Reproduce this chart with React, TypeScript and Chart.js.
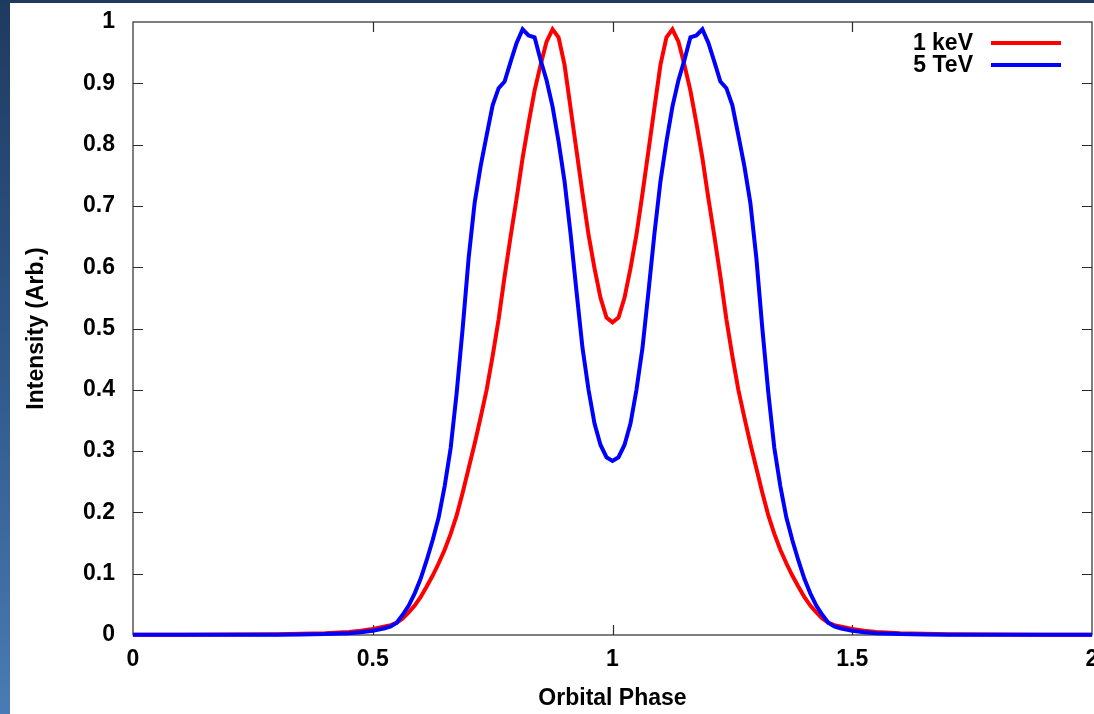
import React, { useEffect, useRef } from 'react';
import { Chart, registerables } from 'chart.js';

Chart.register(...registerables);

// Orbital phase samples (denser across the double-peaked region)
const phase = [
  0, 0.1, 0.2, 0.3, 0.35, 0.4, 0.45, 0.475,
  0.5, 0.5125, 0.525, 0.5375, 0.55, 0.5625, 0.575, 0.5875, 0.6, 0.6125,
  0.625, 0.6375, 0.65, 0.6625, 0.675, 0.6875, 0.7, 0.7125, 0.725, 0.7375,
  0.75, 0.7625, 0.775, 0.7875, 0.8, 0.8125, 0.825, 0.8375, 0.85, 0.8625,
  0.875, 0.8875, 0.9, 0.9125, 0.925, 0.9375, 0.95, 0.9625, 0.975, 0.9875,
  1,
  1.0125, 1.025, 1.0375, 1.05, 1.0625, 1.075, 1.0875, 1.1, 1.1125, 1.125,
  1.1375, 1.15, 1.1625, 1.175, 1.1875, 1.2, 1.2125, 1.225, 1.2375, 1.25,
  1.2625, 1.275, 1.2875, 1.3, 1.3125, 1.325, 1.3375, 1.35, 1.3625, 1.375,
  1.3875, 1.4, 1.4125, 1.425, 1.4375, 1.45, 1.4625, 1.475, 1.4875, 1.5,
  1.525, 1.55, 1.6, 1.65, 1.7, 1.8, 1.9, 2,
];

// 1 keV light curve
const intensity1keV = [
  0.0005, 0.0006, 0.0008, 0.0012, 0.002, 0.003, 0.005, 0.007,
  0.010, 0.012, 0.014, 0.016, 0.020, 0.027, 0.037, 0.048, 0.062, 0.079,
  0.097, 0.117, 0.139, 0.165, 0.195, 0.232, 0.272, 0.312, 0.355, 0.400,
  0.455, 0.515, 0.585, 0.650, 0.712, 0.778, 0.835, 0.888, 0.930, 0.968,
  0.988, 0.975, 0.930, 0.860, 0.790, 0.720, 0.653, 0.598, 0.550, 0.518,
  0.510,
  0.518, 0.550, 0.598, 0.653, 0.720, 0.790, 0.860, 0.930, 0.975, 0.988,
  0.968, 0.930, 0.888, 0.835, 0.778, 0.712, 0.650, 0.585, 0.515, 0.455,
  0.400, 0.355, 0.312, 0.272, 0.232, 0.195, 0.165, 0.139, 0.117, 0.097,
  0.079, 0.062, 0.048, 0.037, 0.027, 0.020, 0.016, 0.014, 0.012, 0.010,
  0.007, 0.005, 0.003, 0.002, 0.0012, 0.0008, 0.0006, 0.0005,
];

// 5 TeV light curve
const intensity5TeV = [
  0.0003, 0.0003, 0.0004, 0.0006, 0.001, 0.0015, 0.003, 0.0045,
  0.007, 0.009, 0.011, 0.014, 0.020, 0.033, 0.048, 0.068, 0.092, 0.122,
  0.155, 0.192, 0.243, 0.305, 0.395, 0.500, 0.615, 0.705, 0.765, 0.815,
  0.864, 0.892, 0.903, 0.935, 0.966, 0.988, 0.978, 0.975, 0.938, 0.905,
  0.862, 0.805, 0.740, 0.655, 0.560, 0.468, 0.400, 0.345, 0.310, 0.290,
  0.284,
  0.290, 0.310, 0.345, 0.400, 0.468, 0.560, 0.655, 0.740, 0.805, 0.862,
  0.905, 0.938, 0.975, 0.978, 0.988, 0.966, 0.935, 0.903, 0.892, 0.864,
  0.815, 0.765, 0.705, 0.615, 0.500, 0.395, 0.305, 0.243, 0.192, 0.155,
  0.122, 0.092, 0.068, 0.048, 0.033, 0.020, 0.014, 0.011, 0.009, 0.007,
  0.0045, 0.003, 0.0015, 0.001, 0.0006, 0.0004, 0.0003, 0.0003,
];

const seriesNames = ['1 keV', '5 TeV'];
const seriesColors = ['#ff0000', '#0000ff'];

const xTicks = [0, 0.5, 1, 1.5, 2];
const xTickLabels = ['0', '0.5', '1', '1.5', '2'];
const yTicks = [0, 0.1, 0.2, 0.3, 0.4, 0.5, 0.6, 0.7, 0.8, 0.9, 1];
const yTickLabels = ['0', '0.1', '0.2', '0.3', '0.4', '0.5', '0.6', '0.7', '0.8', '0.9', '1'];

const xTitle = 'Orbital Phase';
const yTitle = 'Intensity (Arb.)';

const W = 1094;
const H = 714;
const FONT = '"Liberation Sans", Arial, Helvetica, sans-serif';
const font = { family: FONT, size: 23, weight: 'bold' as const };

// Slide-style backdrop: white page with a navy strip on top and a blue gradient on the left
const backdrop = {
  id: 'backdrop',
  beforeDraw(chart: any) {
    const { ctx } = chart;
    ctx.save();
    ctx.fillStyle = '#ffffff';
    ctx.fillRect(0, 0, W, H);
    const g = ctx.createLinearGradient(0, 0, 0, H);
    g.addColorStop(0, '#1f3a60');
    g.addColorStop(0.5, '#2f5888');
    g.addColorStop(1, '#4a7bb4');
    ctx.fillStyle = g;
    ctx.fillRect(0, 0, 10, H);
    ctx.fillStyle = '#1f3a60';
    ctx.fillRect(0, 0, W, 3);
    ctx.restore();
  },
};

// Boxed frame with inward tick marks on all four sides, plus the key
const frame = {
  id: 'frame',
  beforeDatasetsDraw(chart: any) {
    const { ctx, chartArea: a, scales } = chart;
    const xs = scales.x;
    const ys = scales.y;
    const tl = 10;
    ctx.save();
    ctx.strokeStyle = '#2b2b2b';
    ctx.lineWidth = 1.2;
    ctx.strokeRect(a.left, a.top, a.right - a.left, a.bottom - a.top);
    ctx.beginPath();
    yTicks.forEach((v) => {
      const y = Math.round(ys.getPixelForValue(v)) + 0.5;
      if (v === 0 || v === 1) return;
      ctx.moveTo(a.left, y);
      ctx.lineTo(a.left + tl, y);
      ctx.moveTo(a.right, y);
      ctx.lineTo(a.right - tl, y);
    });
    xTicks.forEach((v) => {
      if (v === 0 || v === 2) return;
      const x = Math.round(xs.getPixelForValue(v)) + 0.5;
      ctx.moveTo(x, a.bottom);
      ctx.lineTo(x, a.bottom - tl);
      ctx.moveTo(x, a.top);
      ctx.lineTo(x, a.top + tl);
    });
    ctx.stroke();
    ctx.restore();
  },
  afterDatasetsDraw(chart: any) {
    const { ctx } = chart;
    ctx.save();
    ctx.font = `bold ${font.size}px ${FONT}`;
    ctx.textAlign = 'right';
    ctx.textBaseline = 'middle';
    const rows = [43, 65];
    seriesNames.forEach((name, i) => {
      const y = rows[i];
      ctx.fillStyle = '#000';
      ctx.fillText(name, 973, y + 1);
      ctx.strokeStyle = seriesColors[i];
      ctx.lineWidth = 4;
      ctx.beginPath();
      ctx.moveTo(991, y);
      ctx.lineTo(1061, y);
      ctx.stroke();
    });
    ctx.restore();
  },
};

export default function App() {
  const ref = useRef<HTMLCanvasElement | null>(null);

  useEffect(() => {
    document.body.style.margin = '0';
    const canvas = ref.current;
    if (!canvas) return;

    const chart = new Chart(canvas, {
      type: 'line',
      data: {
        datasets: [
          {
            label: seriesNames[0],
            data: phase.map((p, i) => ({ x: p, y: intensity1keV[i] })),
            borderColor: seriesColors[0],
            borderWidth: 4,
            pointRadius: 0,
            tension: 0,
            fill: false,
            clip: 4,
            order: 1,
          },
          {
            label: seriesNames[1],
            data: phase.map((p, i) => ({ x: p, y: intensity5TeV[i] })),
            borderColor: seriesColors[1],
            borderWidth: 4,
            pointRadius: 0,
            tension: 0,
            fill: false,
            clip: 4,
            order: 0,
          },
        ],
      },
      options: {
        responsive: false,
        animation: false,
        devicePixelRatio: 1,
        layout: { padding: { top: 22, right: 2, bottom: 0, left: 0 } },
        plugins: {
          legend: { display: false },
          tooltip: { enabled: false },
        },
        scales: {
          x: {
            type: 'linear',
            min: 0,
            max: 2,
            grid: { display: false, drawTicks: false },
            border: { display: false },
            afterBuildTicks: (scale: any) => {
              scale.ticks = xTicks.map((v) => ({ value: v }));
            },
            afterFit: (scale: any) => {
              scale.height = 79;
              scale.paddingLeft = 0;
              scale.paddingRight = 0;
            },
            ticks: {
              autoSkip: false,
              maxRotation: 0,
              padding: 11,
              color: '#000',
              font,
              callback: (_v: any, i: number) => xTickLabels[i],
            },
            title: {
              display: true,
              text: xTitle,
              color: '#000',
              font,
              padding: { top: 0, bottom: 2 },
            },
          },
          y: {
            type: 'linear',
            min: 0,
            max: 1,
            grid: { display: false, drawTicks: false },
            border: { display: false },
            afterBuildTicks: (scale: any) => {
              scale.ticks = yTicks.map((v) => ({ value: v }));
            },
            afterFit: (scale: any) => {
              scale.width = 133;
              scale.paddingTop = 0;
              scale.paddingBottom = 0;
            },
            ticks: {
              autoSkip: false,
              padding: 18,
              color: '#000',
              font,
              callback: (_v: any, i: number) => yTickLabels[i],
            },
            title: {
              display: true,
              text: yTitle,
              color: '#000',
              font,
              padding: { top: 23, bottom: 0 },
            },
          },
        },
      },
      plugins: [backdrop, frame],
    } as any);

    return () => chart.destroy();
  }, []);

  return (
    <div style={{ position: 'fixed', left: 0, top: 0, width: W, height: H, overflow: 'hidden' }}>
      <canvas ref={ref} width={W} height={H} style={{ display: 'block', width: W, height: H }} />
    </div>
  );
}
